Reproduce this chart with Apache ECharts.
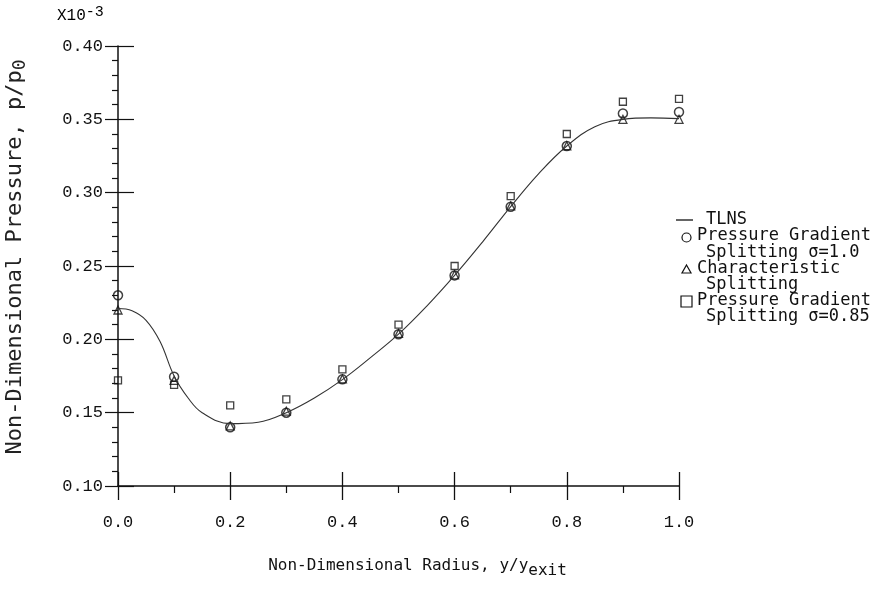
<!DOCTYPE html>
<html>
<head>
<meta charset="utf-8">
<script src="https://cdn.jsdelivr.net/npm/echarts@6/dist/echarts.min.js"></script>
<style>
html, body { margin: 0; padding: 0; background: #fff; }
#main { width: 873px; height: 597px; }
</style>
</head>
<body>
<div id="main"></div>
<script>
// radius stations of the symbols
var radius = [0.0, 0.1, 0.2, 0.3, 0.4, 0.5, 0.6, 0.7, 0.8, 0.9, 1.0]
// Pressure Gradient Splitting sigma=1.0 (circles)
var pgs10 = [0.230, 0.1745, 0.140, 0.150, 0.1727, 0.2035, 0.2436, 0.2904, 0.3318, 0.354, 0.355]
// Characteristic Splitting (triangles)
var charSplit = [0.220, 0.172, 0.141, 0.151, 0.173, 0.204, 0.244, 0.291, 0.332, 0.350, 0.350]
// Pressure Gradient Splitting sigma=0.85 (squares)
var pgs085 = [0.172, 0.169, 0.155, 0.159, 0.1795, 0.210, 0.250, 0.2977, 0.340, 0.362, 0.364]
// TLNS curve
var tlnsX = [0.0, 0.025, 0.05, 0.075, 0.1, 0.125, 0.15, 0.2, 0.25, 0.3, 0.35, 0.4, 0.45, 0.5, 0.55, 0.6, 0.65, 0.7, 0.75, 0.8, 0.85, 0.9, 0.95, 1.0]
var tlnsY = [0.221, 0.2195, 0.213, 0.1985, 0.175, 0.160, 0.150, 0.1425, 0.1435, 0.150, 0.160, 0.1725, 0.1875, 0.2035, 0.2225, 0.2436, 0.2665, 0.2905, 0.313, 0.3318, 0.345, 0.350, 0.351, 0.3505]
// axis ticks
var xTicks = { min: 0, max: 1, step: 0.2 }
var yTicks = { min: 0.10, max: 0.40, step: 0.05 }

function pairs(xs, ys) {
  return xs.map(function (x, i) { return [x, ys[i]] })
}

var mono = 'DejaVu Sans Mono'
var typewriter = 'Liberation Mono'
var ink = '#111'

var myChart = echarts.init(document.getElementById('main'))

var legendRows = [
  { y: 221, text: 'TLNS', x: 706 },
  { y: 237.5, text: 'Pressure Gradient', x: 697 },
  { y: 254, text: 'Splitting \u03c3=1.0', x: 706 },
  { y: 270, text: 'Characteristic', x: 697 },
  { y: 286, text: 'Splitting', x: 706 },
  { y: 302, text: 'Pressure Gradient', x: 697 },
  { y: 318, text: 'Splitting \u03c3=0.85', x: 706 }
]
var legendGraphics = legendRows.map(function (r) {
  return {
    type: 'text', left: r.x, top: r.y - 10,
    style: { text: r.text, font: '17px "' + mono + '"', fill: ink }
  }
})
legendGraphics.push(
  { type: 'line', shape: { x1: 676, y1: 220, x2: 693, y2: 220 }, style: { stroke: ink, lineWidth: 1.3 } },
  { type: 'circle', shape: { cx: 686.5, cy: 237.5, r: 4.5 }, style: { fill: 'none', stroke: ink, lineWidth: 1.2 } },
  { type: 'polygon', shape: { points: [[686.5, 265], [691, 273], [682, 273]] }, style: { fill: 'none', stroke: ink, lineWidth: 1.2 } },
  { type: 'rect', shape: { x: 681, y: 296, width: 11, height: 11 }, style: { fill: 'none', stroke: ink, lineWidth: 1.2 } }
)

myChart.setOption({
  animation: false,
  backgroundColor: '#fff',
  grid: { left: 118, right: 194, top: 46, bottom: 111, outerBoundsMode: 'none', containLabel: false },
  graphic: [
    {
      type: 'text', left: 57, top: 5,
      style: {
        text: '{a|X10}{b|-3}',
        rich: {
          a: { fontFamily: typewriter, fontSize: 16, color: ink, padding: [7, 0, 0, 0] },
          b: { fontFamily: typewriter, fontSize: 15, color: ink }
        }
      }
    }
  ].concat(legendGraphics),
  xAxis: [
    {
      type: 'value', position: 'bottom',
      min: xTicks.min, max: xTicks.max, interval: xTicks.step,
      axisLine: { show: true, onZero: false, lineStyle: { color: ink, width: 1.5 } },
      axisTick: { show: true, length: 14, lineStyle: { color: ink, width: 1.3 } },
      minorTick: { show: true, splitNumber: 2, length: 7, lineStyle: { color: ink, width: 1.2 } },
      splitLine: { show: false },
      axisLabel: {
        margin: 28, fontFamily: typewriter, fontSize: 17, color: ink,
        formatter: function (v) { return v.toFixed(1) }
      },
      name: '{t|Non-Dimensional Radius, y/y}{s|exit}',
      nameLocation: 'middle', nameGap: 72,
      nameTextStyle: {
        padding: [0, 0, 0, 38],
        rich: {
          t: { fontFamily: mono, fontSize: 16, color: ink, lineHeight: 18, verticalAlign: 'top' },
          s: { fontFamily: mono, fontSize: 16, color: ink, lineHeight: 18, padding: [8, 0, 0, 0] }
        }
      }
    },
    {
      // second copy of the bottom axis, only for the upward ticks
      type: 'value', position: 'bottom',
      min: xTicks.min, max: xTicks.max, interval: xTicks.step,
      axisLine: { show: false, onZero: false },
      axisTick: { show: true, inside: true, length: 14, lineStyle: { color: ink, width: 1.3 } },
      axisLabel: { show: false },
      splitLine: { show: false }
    }
  ],
  yAxis: [
    {
      type: 'value', position: 'left',
      min: yTicks.min, max: yTicks.max, interval: yTicks.step,
      axisLine: { show: true, lineStyle: { color: ink, width: 1.5 } },
      axisTick: { show: true, length: 13, lineStyle: { color: ink, width: 1.2 } },
      minorTick: { show: true, splitNumber: 5, length: 6, lineStyle: { color: ink, width: 1.2 } },
      splitLine: { show: false },
      axisLabel: {
        margin: 15, fontFamily: typewriter, fontSize: 17, color: ink,
        formatter: function (v) { return v.toFixed(2) }
      },
      name: '{t|Non-Dimensional Pressure, p/p}{s|0}',
      nameLocation: 'middle', nameGap: 90, nameRotate: 90,
      nameTextStyle: {
        padding: [0, 0, 0, 18],
        rich: {
          t: { fontFamily: mono, fontSize: 22, color: '#222', lineHeight: 24, verticalAlign: 'top' },
          s: { fontFamily: mono, fontSize: 18, color: '#222', lineHeight: 24, padding: [9, 0, 0, 0] }
        }
      }
    },
    {
      // second copy of the left axis, only for the inward ticks
      type: 'value', position: 'left',
      min: yTicks.min, max: yTicks.max, interval: yTicks.step,
      axisLine: { show: false },
      axisTick: { show: true, inside: true, length: 16, lineStyle: { color: ink, width: 1.2 } },
      axisLabel: { show: false },
      splitLine: { show: false }
    }
  ],
  series: [
    {
      name: 'TLNS', type: 'line', smooth: 0.4,
      showSymbol: false, symbol: 'none',
      lineStyle: { color: '#333', width: 1.1 },
      data: pairs(tlnsX, tlnsY)
    },
    {
      name: 'Pressure Gradient Splitting \u03c3=0.85', type: 'scatter',
      symbol: 'rect', symbolSize: 7,
      itemStyle: { color: 'rgba(0,0,0,0)', borderColor: ink, borderWidth: 1.3 },
      data: pairs(radius, pgs085)
    },
    {
      name: 'Characteristic Splitting', type: 'scatter',
      symbol: 'triangle', symbolSize: 8,
      itemStyle: { color: 'rgba(0,0,0,0)', borderColor: ink, borderWidth: 1.3 },
      data: pairs(radius, charSplit)
    },
    {
      name: 'Pressure Gradient Splitting \u03c3=1.0', type: 'scatter',
      symbol: 'circle', symbolSize: 9,
      itemStyle: { color: 'rgba(0,0,0,0)', borderColor: ink, borderWidth: 1.5 },
      data: pairs(radius, pgs10)
    }
  ]
})
</script>
</body>
</html>
